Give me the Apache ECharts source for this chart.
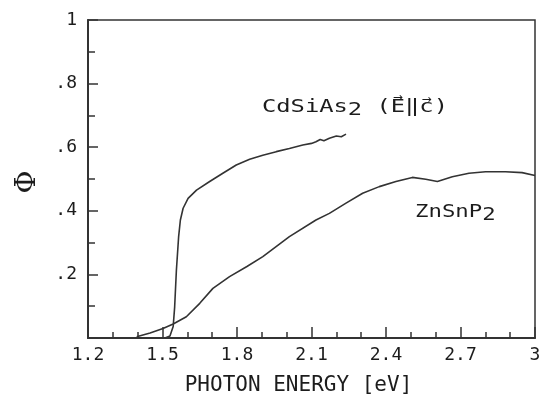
<!DOCTYPE html>
<html><head><meta charset="utf-8">
<script src="https://cdn.jsdelivr.net/npm/echarts@6/dist/echarts.min.js"></script>
<style>html,body{margin:0;padding:0;background:#fff}#c{width:541px;height:401px}</style>
</head><body><div id="c"></div>
<script>
const cdsiasEnergy = [1.51, 1.53, 1.543, 1.549, 1.556, 1.565, 1.572, 1.583, 1.603, 1.637, 1.69, 1.743, 1.797, 1.851, 1.904, 1.958, 2.011, 2.065, 2.10, 2.118, 2.135, 2.15, 2.172, 2.20, 2.22, 2.239];
const cdsiasPhi = [0.0, 0.006, 0.036, 0.098, 0.214, 0.319, 0.371, 0.408, 0.439, 0.465, 0.492, 0.518, 0.544, 0.562, 0.575, 0.586, 0.596, 0.607, 0.612, 0.617, 0.624, 0.620, 0.628, 0.635, 0.633, 0.641];
const znsnpEnergy = [1.396, 1.45, 1.502, 1.543, 1.596, 1.65, 1.703, 1.77, 1.84, 1.904, 2.011, 2.118, 2.172, 2.239, 2.306, 2.373, 2.44, 2.506, 2.56, 2.607, 2.667, 2.734, 2.801, 2.881, 2.948, 3.0];
const znsnpPhi = [0.004, 0.016, 0.030, 0.044, 0.067, 0.109, 0.156, 0.193, 0.225, 0.256, 0.319, 0.371, 0.392, 0.424, 0.455, 0.476, 0.492, 0.505, 0.499, 0.492, 0.507, 0.518, 0.523, 0.523, 0.520, 0.511];
const xTickLabels = {'1.2':'1.2','1.5':'1.5','1.8':'1.8','2.1':'2.1','2.4':'2.4','2.7':'2.7','3':'3'};
const yTickLabels = {'0.2':'.2','0.4':'.4','0.6':'.6','0.8':'.8','1':'1'};
const xName = 'PHOTON ENERGY [eV]';
const yName = 'Φ';

const FONT = 'DejaVu Sans Mono';
const INK = '#1c1c1c';
const LINE = '#333';
const PITCH = 18 * 0.602; // mono advance at 18px

function zip(a, b) { return a.map((v, i) => [v, b[i]]); }

const lblX = 262, lblY = 96, lblScale = 1.32;
const znX = 415, znY = 201, znScale = 1.24;

const chart = echarts.init(document.getElementById('c'), null, {renderer: 'canvas'});
chart.setOption({
  animation: false,
  backgroundColor: '#fff',
  grid: {left: 88, top: 20, right: 6, bottom: 63, show: true, borderColor: LINE, borderWidth: 1.5,
    containLabel: false, outerBoundsMode: 'none'},
  xAxis: {
    type: 'value', min: 1.2, max: 3, interval: 0.3,
    name: xName, nameLocation: 'middle', nameGap: 37,
    nameTextStyle: {fontFamily: FONT, fontSize: 21, color: INK, padding: [0, 26, 0, 0]},
    axisLine: {show: true, lineStyle: {color: LINE, width: 2}},
    axisTick: {show: true, inside: true, length: 11, lineStyle: {color: LINE, width: 1.5}},
    minorTick: {show: true, splitNumber: 3, length: 6, lineStyle: {color: LINE, width: 1.5}},
    splitLine: {show: false},
    axisLabel: {fontFamily: FONT, fontSize: 18, color: INK, margin: 8,
      formatter: v => xTickLabels[String(Math.round(v * 10) / 10)] || ''}
  },
  yAxis: {
    type: 'value', min: 0, max: 1, interval: 0.2,
    name: yName, nameLocation: 'middle', nameGap: 46, nameRotate: 90,
    nameTextStyle: {fontFamily: 'DejaVu Serif', fontSize: 28, color: INK, padding: [0, 6, 0, 0]},
    axisLine: {show: true, lineStyle: {color: LINE, width: 2}},
    axisTick: {show: true, inside: true, length: 10, lineStyle: {color: LINE, width: 1.5}},
    minorTick: {show: true, splitNumber: 2, length: 7, lineStyle: {color: LINE, width: 1.5}},
    splitLine: {show: false},
    axisLabel: {fontFamily: FONT, fontSize: 18, color: INK, margin: 11,
      formatter: v => yTickLabels[String(Math.round(v * 10) / 10)] || ''}
  },
  graphic: [
    {type: 'text', x: lblX, y: lblY, scaleX: lblScale, style: {
      text: 'CdSiAs{s|2} (E‖c)', fontFamily: FONT, fontSize: 18, fill: INK, verticalAlign: 'top',
      rich: {s: {fontFamily: FONT, fontSize: 18, fill: INK, padding: [5, 0, 0, 0]}}
    }},
    {type: 'text', x: lblX + 9.5 * PITCH * lblScale, y: lblY - 4, style: {
      text: '→', fontFamily: 'DejaVu Sans', fontSize: 12, fill: INK, align: 'center', verticalAlign: 'top'}},
    {type: 'text', x: lblX + 11.5 * PITCH * lblScale, y: lblY - 2, style: {
      text: '→', fontFamily: 'DejaVu Sans', fontSize: 12, fill: INK, align: 'center', verticalAlign: 'top'}},
    {type: 'text', x: znX, y: znY, scaleX: znScale, style: {
      text: 'ZnSnP{s|2}', fontFamily: FONT, fontSize: 18, fill: INK, verticalAlign: 'top',
      rich: {s: {fontFamily: FONT, fontSize: 18, fill: INK, padding: [5, 0, 0, 0]}}
    }}
  ],
  series: [
    {name: 'CdSiAs2', type: 'line', data: zip(cdsiasEnergy, cdsiasPhi), showSymbol: false,
      lineStyle: {color: LINE, width: 1.6}},
    {name: 'ZnSnP2', type: 'line', data: zip(znsnpEnergy, znsnpPhi), showSymbol: false,
      lineStyle: {color: LINE, width: 1.6}}
  ]
});
</script></body></html>
